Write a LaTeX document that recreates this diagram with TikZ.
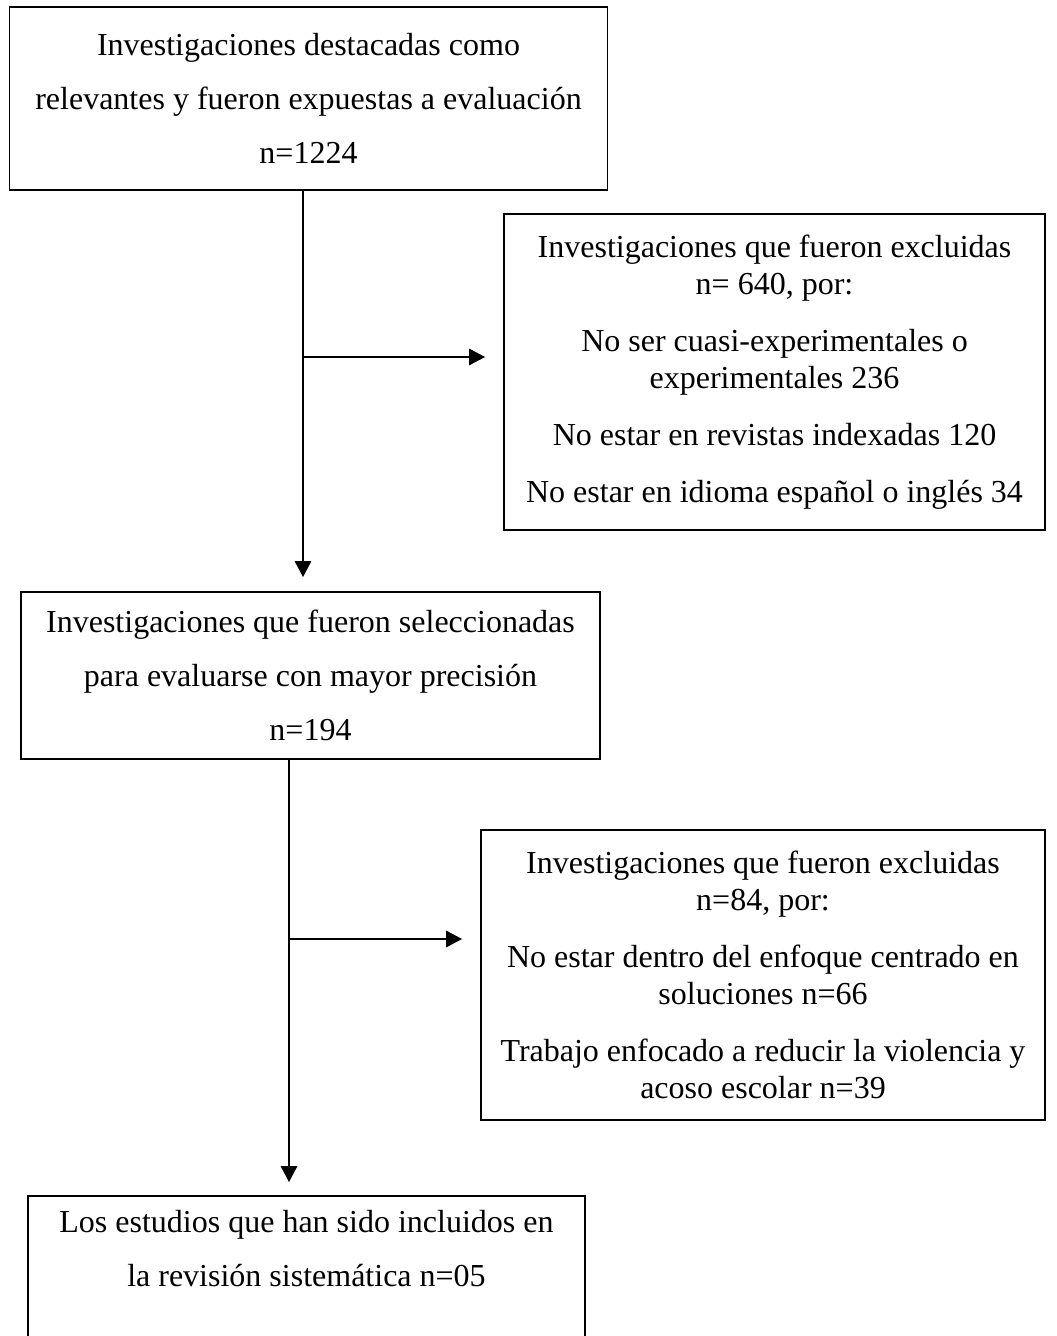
\documentclass[tikz,border=0pt]{standalone}
\usepackage{fontspec}
\setmainfont{Liberation Serif}
\usepackage{tikz}
\usetikzlibrary{arrows.meta}

\tikzset{
    caja/.style={shape=rectangle, draw=black, line width=0.8pt, inner sep=0pt,
        align=center, font=\fontsize{16}{27}\selectfont},
    excluidas/.style={caja, font=\fontsize{16}{18.5}\selectfont},
    flecha/.style={line width=1.3pt, -{Triangle[length=8pt,width=8pt]}}
}

\begin{document}
\begin{tikzpicture}[x=0.5pt, y=-0.5pt]
    \useasboundingbox (0,0) rectangle (1056,1336);

    \node[caja, minimum width=299pt, minimum height=91.5pt] (R) at (308.5,98.5)
        {Investigaciones destacadas como\\relevantes y fueron expuestas a evaluación\\n=1224};
    \node[excluidas, minimum width=270.5pt, minimum height=158pt] (E1) at (774.5,372)
        {Investigaciones que fueron excluidas\\n= 640, por:\\[10pt]No ser cuasi-experimentales o\\experimentales 236\\[10pt]No estar en revistas indexadas 120\\[10pt]No estar en idioma español o inglés 34};
    \node[caja, minimum width=289.5pt, minimum height=83.5pt] (S) at (310.5,675.5)
        {Investigaciones que fueron seleccionadas\\para evaluarse con mayor precisión\\n=194};
    \node[excluidas, minimum width=282pt, minimum height=145pt] (E2) at (763,975)
        {Investigaciones que fueron excluidas\\n=84, por:\\[10pt]No estar dentro del enfoque centrado en\\soluciones n=66\\[10pt]Trabajo enfocado a reducir la violencia y\\acoso escolar n=39};
    \node[caja, minimum width=278.5pt, minimum height=87pt] (I) at (306.5,1283)
        {Los estudios que han sido incluidos en\\la revisión sistemática n=05\\ \strut};

    \coordinate (J1) at (303,357);
    \coordinate (J2) at (289,939);

    \path[flecha, shorten >=7pt] (R.south -| J1) edge (S.north -| J1);
    \path[flecha, shorten >=9pt] (J1) edge (E1.west |- J1);
    \path[flecha, shorten >=6.5pt] (S.south -| J2) edge (I.north -| J2);
    \path[flecha, shorten >=9pt] (J2) edge (E2.west |- J2);

\end{tikzpicture}
\end{document}
